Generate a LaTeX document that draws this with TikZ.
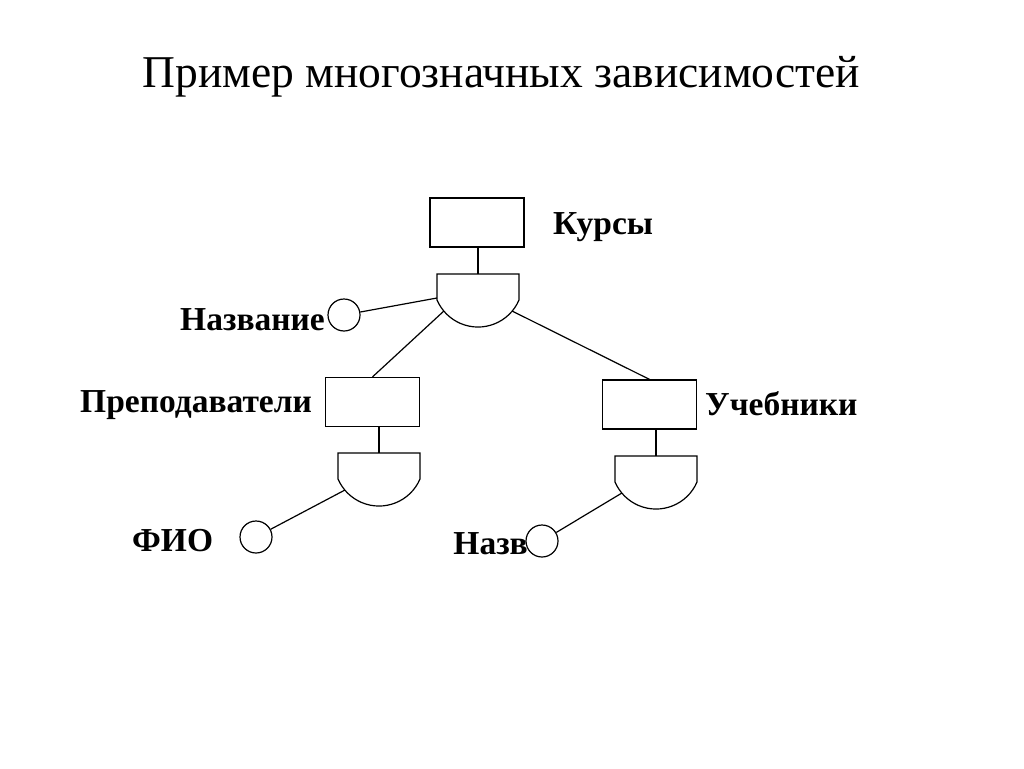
\documentclass[tikz,border=0pt]{standalone}
\usepackage{fontspec}
\setmainfont{Liberation Serif}
\tikzset{
    entity/.style={draw, line width=1.2pt, minimum width=94pt, minimum height=49pt, inner sep=0pt},
    attr/.style={circle, draw, line width=1.2pt, minimum size=32pt, inner sep=0pt},
    lbl/.style={font=\bfseries\fontsize{33.5}{40}\selectfont, inner sep=0pt},
    gate/.pic={
        \draw[line width=1.2pt] (-41,0) -- (41,0) -- (41,26)
            arc[start angle=23.2, end angle=156.8, radius=44.6] -- cycle;
        \coordinate (-t) at (0,0);
        \coordinate (-w) at (-41,24);
        \coordinate (-sw) at ([shift={(0,8.4)}]140:44.6);
        \coordinate (-se) at ([shift={(0,8.4)}]40:44.6);
    }
}
\begin{document}
\begin{tikzpicture}[x=1pt, y=-1pt]
        \useasboundingbox (0,0) rectangle (1024,768);
        \node[anchor=base, inner sep=0pt, font=\fontsize{45.5}{55}\selectfont] (title) at (501.5,87) {Пример многозначных зависимостей};
        \begin{scope}[every node/.style={entity}]
            \node (kursy) at (477,222.5) {};
            \node (prep) at (372.5,402) {};
            \node (ucheb) at (649.5,404.5) {};
        \end{scope}
        \pic (g0) at (478,274) {gate};
        \pic (g1) at (379,453) {gate};
        \pic (g2) at (656,456) {gate};
        \begin{scope}[every node/.style={attr}]
            \node (nazv) at (344,315) {};
            \node (fio) at (256,537) {};
            \node (nazvb) at (542,541) {};
        \end{scope}
        \begin{scope}[every node/.style={lbl}]
            \node[anchor=base west] (lkursy) at (553,234) {Курсы};
            \node[anchor=base east] (lnazv) at (325,330) {Название};
            \node[anchor=base west] (lprep) at (80,412) {Преподаватели};
            \node[anchor=base west] (lucheb) at (705,415) {Учебники};
            \node[anchor=base west] (lfio) at (132,551) {ФИО};
            \node[anchor=base east] (lnazvb) at (528,554) {Назв};
        \end{scope}
        \begin{scope}[line width=1.2pt]
            \draw (g0-t |- kursy.south) -- (g0-t);
            \draw (nazv) -- (g0-w);
            \draw (g0-sw) -- (prep.north);
            \draw (g0-se) -- (ucheb.north);
            \draw (g1-t |- prep.south) -- (g1-t);
            \draw (fio) -- (g1-sw);
            \draw (g2-t |- ucheb.south) -- (g2-t);
            \draw (nazvb) -- (g2-sw);
        \end{scope}
    \end{tikzpicture}
\end{document}
